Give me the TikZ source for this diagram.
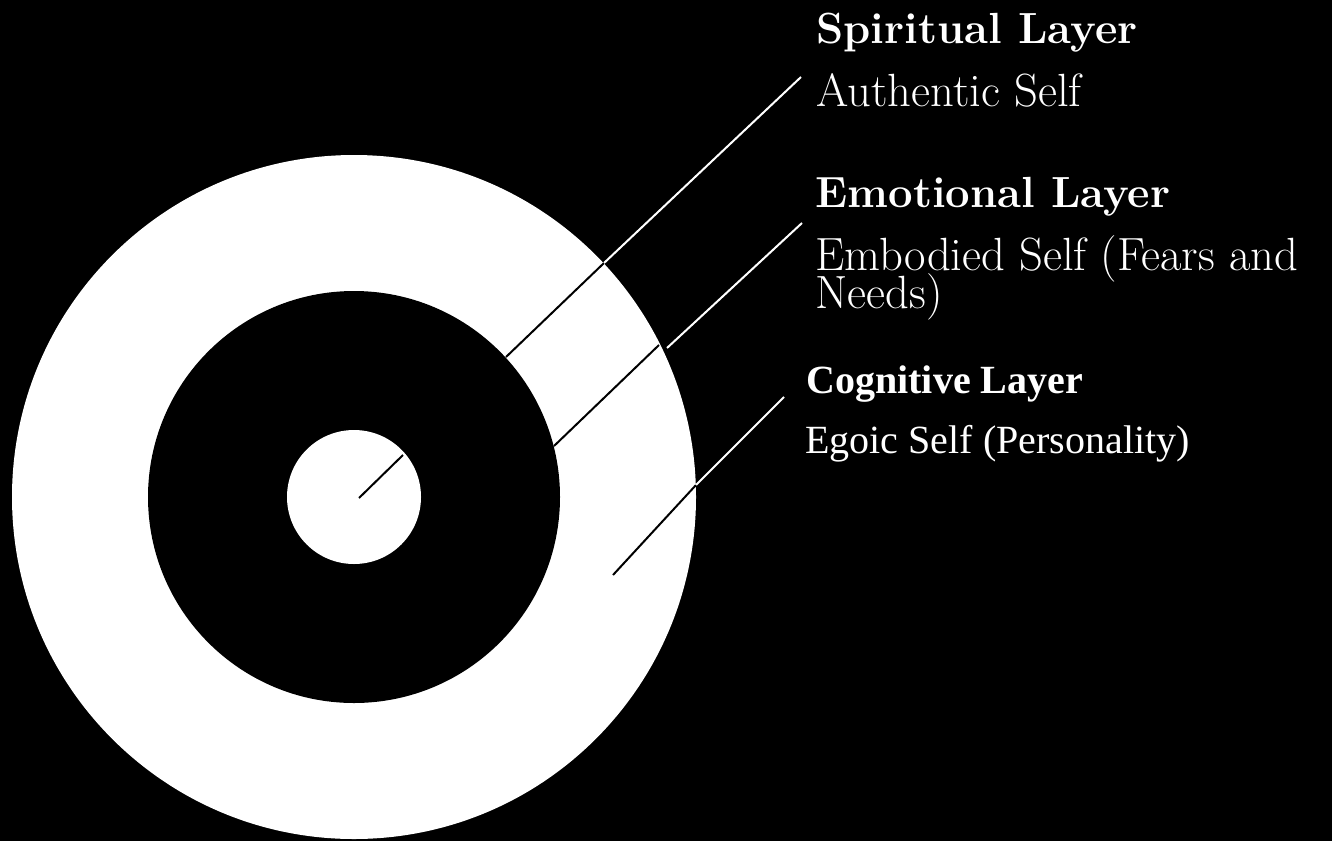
\documentclass[tikz,border=0pt]{standalone}
\usepackage{fontspec}
\newfontfamily\timesfont{Liberation Serif}
\newcommand{\tightlines}{\lineskiplimit=-100pt\relax}
\usetikzlibrary{positioning}

\begin{document}
\begin{tikzpicture}[
    x=0.5pt, y=-0.5pt,
    head/.style={anchor=base west, inner sep=0pt, text=white, font=\fontsize{21.8}{19}\selectfont\bfseries},
    sub/.style={anchor=base west, inner sep=0pt, text=white, align=left, font={\fontsize{23.3}{19}\selectfont\tightlines}},
    thead/.style={anchor=base west, inner sep=0pt, text=white, font=\timesfont\fontsize{20}{19}\selectfont\bfseries},
    tsub/.style={anchor=base west, inner sep=0pt, text=white, font=\timesfont\fontsize{20}{19}\selectfont},
    wlead/.style={draw=white, line width=1pt},
    blead/.style={draw=black, line width=1pt}
]
% background and rings
\fill[black] (0,0) rectangle (1332,841);
\useasboundingbox (0,0) rectangle (1332,841);
\coordinate (ctr) at (354,497);
\fill[white] (ctr) circle[radius=342];
\fill[black] (ctr) circle[radius=206];
\fill[white] (ctr) circle[radius=67];

% labels
\node[head] (spirit) at (816,43) {Spiritual Layer};
\node[sub] (authentic) at (816,106) {Authentic Self};
\node[head] (emotion) at (815,207) {Emotional Layer};
\node[sub] (embodied) at (815,308) {Embodied Self (Fears and\\Needs)};
\node[thead] (cognit) at (806,393) {Cognitive Layer};
\node[tsub] (egoic) at (805,453) {Egoic Self (Personality)};

% leader points
\coordinate (a1) at (506,357);
\coordinate (a2) at (604,263);
\coordinate (a3) at (801,77);
\coordinate (b0) at (359,498);
\coordinate (b1) at (403,455);
\coordinate (b2) at (554,446);
\coordinate (b3) at (659,345);
\coordinate (b4) at (667,348);
\coordinate (b5) at (802,223);
\coordinate (c1) at (613,575);
\coordinate (c2) at (696,485);
\coordinate (c3) at (784,397);

% leaders
\draw[blead] (a1) -- (a2);
\draw[wlead] (a2) -- (a3);
\draw[blead] (b0) -- (b1);
\draw[blead] (b2) -- (b3);
\draw[wlead] (b4) -- (b5);
\draw[blead] (c1) -- (c2);
\draw[wlead] (c2) -- (c3);
\end{tikzpicture}
\end{document}
